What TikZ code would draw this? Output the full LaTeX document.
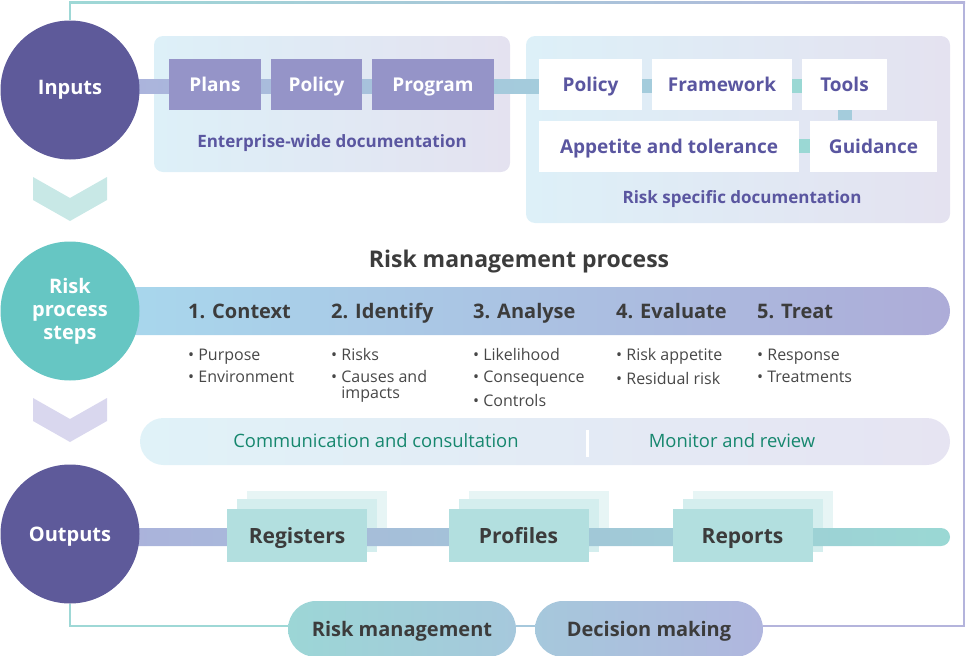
\documentclass[tikz,border=0pt]{standalone}
\usepackage{fontspec}
\setmainfont{Open Sans}
\usetikzlibrary{positioning,calc}

\pgfdeclarelayer{bg}
\pgfdeclarelayer{links}
\pgfsetlayers{bg,links,main}

\definecolor{darkpurple}{HTML}{5E5A9A}
\definecolor{stepteal}{HTML}{66C6C3}
\definecolor{chevteal}{HTML}{C8E8E6}
\definecolor{chevlav}{HTML}{D9D7EE}
\definecolor{boxlav}{HTML}{9594C8}
\definecolor{panelblue}{HTML}{DDF0F8}
\definecolor{panelmint}{HTML}{E2F3F3}
\definecolor{panellav}{HTML}{E4E2F0}
\definecolor{purptext}{HTML}{5A56A0}
\definecolor{graytext}{HTML}{3C3C3C}
\definecolor{bullettext}{HTML}{474747}
\definecolor{greentext}{HTML}{16876E}
\definecolor{outfill}{HTML}{B2DFDF}
\definecolor{shadeone}{HTML}{D4EEEE}
\definecolor{shadetwo}{HTML}{E7F5F5}
\definecolor{frameteal}{HTML}{9ED8D6}
\definecolor{framelav}{HTML}{B4B4DC}
\definecolor{linklav}{HTML}{ACB0DC}
\definecolor{linkblue}{HTML}{A4CCDC}
\definecolor{linkteal}{HTML}{9AD8D4}
\definecolor{bandblue}{HTML}{A8DAEE}
\definecolor{bandteal}{HTML}{ABE0E0}
\definecolor{bandlav}{HTML}{ADACD8}
\definecolor{commblue}{HTML}{E0F2F8}
\definecolor{commmint}{HTML}{E4F3F3}
\definecolor{commlav}{HTML}{E6E4F2}
\definecolor{pillteal}{HTML}{9CD6D6}
\definecolor{pillblue}{HTML}{A6C8DC}
\definecolor{pilllav}{HTML}{B0B6DE}

\tikzset{
  bigdot/.style={circle, minimum size=139pt, inner sep=0pt, text=white, align=center, font=\fontsize{20}{23}\selectfont\bfseries},
  docpanel/.style={rounded corners=9pt, left color=panelblue, middle color=panelmint, right color=panellav, inner sep=0pt},
  inbox/.style={fill=boxlav, text=white, inner sep=0pt, minimum height=51pt, text height=14pt, text depth=0pt, font=\fontsize{19}{22}\selectfont\bfseries},
  riskbox/.style={fill=white, text=purptext, inner sep=0pt, minimum height=51pt, text height=14pt, text depth=0pt, font=\fontsize{19}{22}\selectfont\bfseries},
  caption/.style={anchor=base, text=purptext, inner sep=0pt, font=\fontsize{17}{20}\selectfont\bfseries},
  heading/.style={anchor=base, text=graytext, inner sep=0pt, font=\fontsize{23}{27}\selectfont\bfseries},
  steptitle/.style={anchor=base west, text=graytext, inner sep=0pt, font=\fontsize{20}{24}\selectfont\bfseries},
  bulletlist/.style={anchor=north west, align=left, text=bullettext, inner sep=0pt, font=\fontsize{16}{15.6}\selectfont},
  stepband/.style={rounded corners=24pt, left color=bandblue, middle color=bandteal, right color=bandlav},
  commband/.style={rounded corners=23.5pt, left color=commblue, middle color=commmint, right color=commlav, inner sep=0pt},
  commtext/.style={anchor=base, text=greentext, inner sep=0pt, font=\fontsize{18.4}{21}\selectfont},
  outbox/.style={minimum width=140pt, minimum height=53pt, inner sep=0pt, text height=15pt, text depth=0pt, text=graytext, font=\fontsize{21}{24}\selectfont\bfseries},
  outband/.style={rounded corners=9pt, left color=linklav, middle color=linkblue, right color=linkteal},
  pill/.style={rounded corners=28pt, minimum width=228pt, minimum height=56pt, inner sep=0pt, text height=14pt, text depth=0pt, text=graytext, font=\fontsize{20}{24}\selectfont\bfseries},
  link/.style={line width=14pt},
  frameline/.style={line width=2pt}
}

\begin{document}
\begin{tikzpicture}[x=1pt, y=-1pt]
    \useasboundingbox (0,0) rectangle (967,656);

    % Left column
    \node[bigdot, fill=darkpurple] (inputs) at (70,90) {Inputs};
    \node[bigdot, fill=stepteal] (steps) at (70,311) {Risk\\process\\steps\rule[-5pt]{0pt}{1pt}};
    \node[bigdot, fill=darkpurple, text height=14pt, text depth=0pt] (outputs) at (70,534) {Outputs};
    \foreach \y/\c in {177/chevteal, 398/chevlav} {
        \fill[\c] (33,\y) -- (70,\y+21) -- (107,\y) -- (107,\y+23) -- (70,\y+44) -- (33,\y+23) -- cycle;
    }

    % Documentation panels
    \begin{pgfonlayer}{bg}
        \node[docpanel, minimum width=356pt, minimum height=136pt] (ewide) at (332,104) {};
        \node[docpanel, minimum width=424pt, minimum height=187pt] (rspec) at (738,129.5) {};
    \end{pgfonlayer}
    \node[inbox, minimum width=92pt] (plans) at (215,84) {Plans};
    \node[inbox, minimum width=91pt] (epolicy) at (316.5,84) {Policy};
    \node[inbox, minimum width=122pt] (program) at (433,84) {Program};
    \node[caption] (ewidecap) at (332,147) {Enterprise-wide documentation};

    \node[riskbox, minimum width=103pt] (rpolicy) at (590.5,84) {Policy};
    \node[riskbox, minimum width=140pt] (framework) at (722,84) {Framework};
    \node[riskbox, minimum width=85pt] (tools) at (844.5,84) {Tools};
    \node[riskbox, minimum width=260pt] (appetite) at (669,146) {Appetite and tolerance};
    \node[riskbox, minimum width=127pt] (guidance) at (873.5,146) {Guidance};
    \node[caption] (rspeccap) at (742,203) {Risk specific documentation};

    % Risk management process
    \node[heading] (title) at (519,267) {Risk management process};
    \coordinate (bandtip) at (950,311);
    \begin{pgfonlayer}{bg}
        \shade[stepband] ($(steps.center)+(0,-24)$) rectangle ($(bandtip)+(0,24)$);
    \end{pgfonlayer}
    \foreach \x/\txt [count=\i] in {188/Context, 331/Identify, 473/Analyse, 616/Evaluate, 757/Treat}
        \node[steptitle] (step\i) at (\x,318) {\i. \txt};
    \foreach \i/\items in {1/{• Purpose\\[6.9pt]• Environment},
                           2/{• Risks\\[6.9pt]• Causes and\\\phantom{•\ }impacts},
                           3/{• Likelihood\\[6.9pt]• Consequence\\[6.9pt]• Controls},
                           4/{• Risk appetite\\[6.9pt]• Residual risk},
                           5/{• Response\\[6.9pt]• Treatments}}
        \node[bulletlist] (list\i) at (step\i.west |- 0,348) {\rule{0pt}{12pt}\items};

    % Communication band
    \node[commband, minimum width=810pt, minimum height=47pt] (comm) at (545,441.5) {};
    \node[commtext] (commtxt) at (376,447.5) {Communication and consultation};
    \node[commtext] (monitor) at (732,447.5) {Monitor and review};
    \draw[white, line width=3pt] (587,430) -- (587,457);

    % Outputs
    \foreach \x/\txt/\nm in {297/Registers/regs, 518.5/Profiles/profs, 742.5/Reports/reps} {
        \begin{pgfonlayer}{bg}
            \node[outbox, fill=shadetwo] (\nm-back) at (\x+20,517.5) {};
            \node[outbox, fill=shadeone] (\nm-mid) at (\x+10,525.5) {};
        \end{pgfonlayer}
        \node[outbox, fill=outfill] (\nm) at (\x,535.5) {\txt};
    }
    \coordinate (bandend) at (950,537);

    % Bottom pills
    \node[pill, left color=pillteal, right color=pillblue] (riskmgmt) at (402,629) {Risk management};
    \node[pill, left color=pillblue, right color=pilllav] (decision) at (649,629) {Decision making};

    % Links
    \begin{pgfonlayer}{links}
        \shade[left color=linklav, right color=linkblue] ($(inputs.center |- plans.center)+(0,-5)$) rectangle ($(rpolicy.west)+(0,9)$);
        \draw[link, linkblue] ($(rpolicy)+(0,2)$) -- ($(framework)+(0,2)$);
        \draw[link, linkteal] ($(framework)+(0,2)$) -- ($(tools)+(0,2)$);
        \draw[link, linkblue] (tools.south) -- (tools.south |- guidance.north);
        \draw[link, linkteal] (appetite) -- (guidance);
        \shade[outband] ($(outputs.center)+(0,-6)$) rectangle ($(bandend)+(0,9)$);
    \end{pgfonlayer}

    % Frame
    \coordinate (ftr) at (964,2);
    \coordinate (fbr) at (964,626);
    \begin{pgfonlayer}{bg}
        \draw[frameline, frameteal] (inputs.north) -- (inputs.north |- ftr);
        \shade[left color=frameteal, right color=framelav] ($(inputs.north |- ftr)+(-1,-1)$) rectangle ($(ftr)+(1,1)$);
        \draw[frameline, framelav] (ftr) -- (fbr) -- (decision.east |- fbr);
        \draw[frameline, pillblue] (riskmgmt.east |- fbr) -- (decision.west |- fbr);
        \draw[frameline, frameteal] (outputs.south) |- (riskmgmt.west |- fbr);
    \end{pgfonlayer}
\end{tikzpicture}
\end{document}
